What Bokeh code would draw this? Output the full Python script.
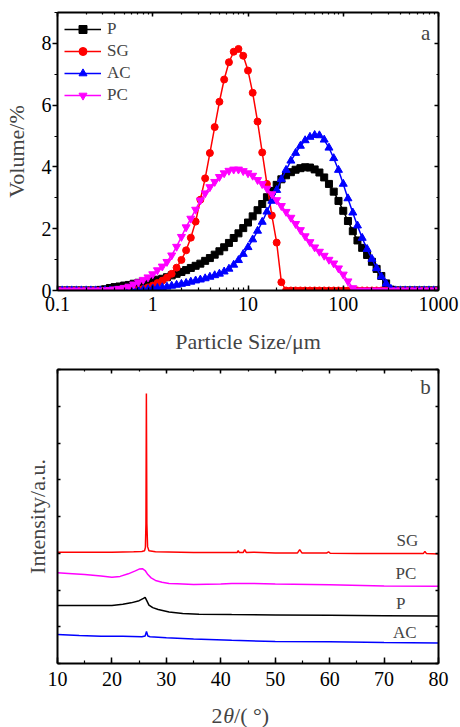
from bokeh.plotting import figure
from bokeh.models import (LogAxis, LinearAxis, Label, Legend, LegendItem, Range1d,
                          SingleIntervalTicker, LogTicker, CustomJSTickFormatter)
from bokeh.layouts import column
from bokeh.embed import file_html
from bokeh.resources import INLINE

FONT = "Liberation Serif"

# ---------------- (a) particle size distribution ----------------
size_um = [0.1, 0.112, 0.126, 0.141, 0.158, 0.178, 0.2, 0.224, 0.251, 0.282,
           0.316, 0.355, 0.398, 0.447, 0.501, 0.562, 0.631, 0.708, 0.794, 0.891,
           1, 1.12, 1.26, 1.41, 1.58, 1.78, 2.0, 2.24, 2.51, 2.82,
           3.16, 3.55, 3.98, 4.47, 5.01, 5.62, 6.31, 7.08, 7.94, 8.91,
           10, 11.2, 12.6, 14.1, 15.8, 17.8, 20.0, 22.4, 25.1, 28.2,
           31.6, 35.5, 39.8, 44.7, 50.1, 56.2, 63.1, 70.8, 79.4, 89.1,
           100, 112, 126, 141, 158, 178, 200, 224, 251, 282,
           316, 355, 398, 447, 501, 562, 631, 708, 794, 891,
           1000]

vol_P = [0, 0, 0, 0, 0, 0, 0, 0, 0, 0.02,
         0.04, 0.08, 0.11, 0.13, 0.16, 0.18, 0.22, 0.25, 0.27, 0.29,
         0.32, 0.35, 0.38, 0.43, 0.49, 0.54, 0.60, 0.66, 0.73, 0.80,
         0.87, 0.96, 1.05, 1.16, 1.27, 1.40, 1.54, 1.70, 1.85, 2.02,
         2.20, 2.40, 2.60, 2.80, 3.02, 3.22, 3.42, 3.60, 3.73, 3.83,
         3.91, 3.96, 3.99, 3.98, 3.92, 3.82, 3.66, 3.45, 3.20, 2.90,
         2.58, 2.25, 1.92, 1.62, 1.38, 1.15, 0.93, 0.70, 0.47, 0.23,
         0.03, 0, 0, 0, 0, 0, 0, 0, 0, 0,
         0]

vol_SG = [0, 0, 0, 0, 0, 0, 0, 0, 0, 0,
          0, 0, 0, 0, 0, 0, 0, 0.02, 0.05, 0.10,
          0.16, 0.24, 0.32, 0.42, 0.54, 0.74, 0.99, 1.30, 1.71, 2.23,
          2.94, 3.63, 4.45, 5.29, 6.11, 6.83, 7.39, 7.73, 7.82, 7.60,
          7.12, 6.40, 5.47, 4.47, 3.45, 2.43, 1.55, 0.27, 0, 0,
          0, 0, 0, 0, 0, 0, 0, 0, 0, 0,
          0, 0, 0, 0, 0, 0, 0, 0, 0, 0,
          0, 0, 0, 0, 0, 0, 0, 0, 0, 0,
          0]

vol_AC = [0, 0, 0, 0, 0, 0, 0, 0, 0, 0,
          0, 0, 0, 0, 0, 0, 0, 0, 0.02, 0.04,
          0.06, 0.08, 0.10, 0.12, 0.15, 0.18, 0.21, 0.24, 0.28, 0.32,
          0.35, 0.39, 0.44, 0.49, 0.54, 0.61, 0.70, 0.83, 0.98, 1.18,
          1.40, 1.65, 1.93, 2.22, 2.55, 2.90, 3.25, 3.60, 3.90, 4.20,
          4.45, 4.68, 4.86, 4.97, 5.03, 5.02, 4.88, 4.62, 4.28, 3.90,
          3.45, 2.98, 2.52, 2.10, 1.70, 1.34, 1.02, 0.72, 0.45, 0.22,
          0.05, 0, 0, 0, 0, 0, 0, 0, 0, 0,
          0]

vol_PC = [0, 0, 0, 0, 0, 0, 0, 0, 0, 0,
          0.01, 0.02, 0.04, 0.06, 0.09, 0.13, 0.20, 0.27, 0.35, 0.43,
          0.53, 0.66, 0.78, 0.93, 1.14, 1.42, 1.74, 2.05, 2.33, 2.62,
          2.92, 3.15, 3.35, 3.52, 3.68, 3.80, 3.88, 3.92, 3.92, 3.87,
          3.80, 3.72, 3.58, 3.45, 3.30, 3.12, 2.93, 2.74, 2.55, 2.36,
          2.16, 1.96, 1.76, 1.57, 1.40, 1.26, 1.13, 1.00, 0.88, 0.72,
          0.52, 0.30, 0.08, 0, 0, 0, 0, 0, 0, 0,
          0, 0, 0, 0, 0, 0, 0, 0, 0, 0,
          0]

psd_series = [("P", vol_P, "black", "square", 7),
              ("SG", vol_SG, "red", "circle", 7),
              ("AC", vol_AC, "blue", "triangle", 8),
              ("PC", vol_PC, "magenta", "inverted_triangle", 8)]

# ---------------- (b) XRD patterns ----------------
tt_SG = [10, 15, 20, 24, 25.5, 26.0, 26.15, 26.25, 26.33, 26.42, 26.55, 26.8, 28,
         35, 42, 43.0, 43.2, 43.4, 44.1, 44.4, 44.7, 46, 50, 54.1, 54.5, 54.9,
         59.5, 59.8, 60.1, 65, 70, 77.2, 77.5, 77.8, 80]
int_SG = [303, 303, 303, 304, 305, 307, 316, 381, 735, 381, 318, 307, 304,
          302, 302, 302, 307, 302, 302, 310, 302, 303, 301, 301, 310, 301,
          301, 304, 300, 299, 299, 299, 305, 299, 298]

tt_PC = [10, 12, 15, 18, 20, 21.5, 23, 24.3, 25, 25.6, 26.1, 26.6, 27.2, 28,
         29.2, 30.5, 32, 35, 40, 42, 45, 50, 60, 70, 80]
int_PC = [247, 245, 242, 238, 235, 237, 244, 252, 257, 258, 253, 242, 233, 226,
          221, 218, 217, 215, 216, 218, 218, 216, 214, 211, 210]

tt_P = [10, 15, 20, 22, 23.5, 25, 25.8, 26.1, 26.4, 26.8, 27.5, 28.5, 30.5, 33,
        36, 42, 50, 60, 70, 80]
int_P = [158, 158, 158, 161, 165, 171, 177, 180, 171, 159, 152, 147, 140, 136,
         134, 133, 132, 131, 130, 129]

tt_AC = [10, 14, 18, 22, 25.5, 26.1, 26.35, 26.6, 27, 30, 35, 42, 50, 60, 70, 80]
int_AC = [79, 76, 74, 74, 73, 75, 87, 75, 73, 70, 67, 63, 60, 59, 57, 56]

xrd_series = [("SG", tt_SG, int_SG, "red"),
              ("PC", tt_PC, int_PC, "magenta"),
              ("P", tt_P, int_P, "black"),
              ("AC", tt_AC, int_AC, "blue")]


def style_axis(ax, tick_in, tick_out, minor_in, minor_out, labels=True, size="20px"):
    ax.axis_line_width = 2
    ax.axis_line_color = "black"
    ax.major_tick_line_width = 1.5
    ax.minor_tick_line_width = 1.2
    ax.major_tick_in = tick_in
    ax.major_tick_out = tick_out
    ax.minor_tick_in = minor_in
    ax.minor_tick_out = minor_out
    ax.major_label_text_font = FONT
    ax.axis_label_text_font = FONT
    ax.axis_label_text_font_style = "normal"
    ax.axis_label_text_font_size = "22px"
    ax.major_label_text_color = "black"
    if labels:
        ax.major_label_text_font_size = size
    else:
        ax.major_label_text_font_size = "0px"
        ax.major_label_standoff = 0


W = 460
BL, BR = 55, 22

p1 = figure(width=W, height=365, x_axis_type="log",
            x_range=Range1d(0.1, 1000), y_range=Range1d(0, 9),
            output_backend="svg", toolbar_location=None,
            min_border_left=BL, min_border_right=BR,
            min_border_top=12, min_border_bottom=75)
p1.xgrid.visible = False
p1.ygrid.visible = False
p1.outline_line_color = None
p1.background_fill_color = "white"
p1.border_fill_color = "white"

logticker = LogTicker(num_minor_ticks=10)
yticker1 = SingleIntervalTicker(interval=2, num_minor_ticks=2)

xa = p1.xaxis[0]
xa.ticker = logticker
xa.formatter = CustomJSTickFormatter(code="return String(parseFloat(tick.toPrecision(6)));")
style_axis(xa, 5, 0, 3, 0)
xa.major_label_standoff = 6
xa.axis_label = "Particle Size/\u03bcm"
xa.axis_label_standoff = 15

ya = p1.yaxis[0]
ya.ticker = yticker1
style_axis(ya, 0, 5, 0, 3)
ya.major_label_standoff = 1
ya.axis_label = "Volume/%"
ya.axis_label_standoff = 10

top1 = LogAxis(ticker=logticker, formatter=CustomJSTickFormatter(code="return '';"))
style_axis(top1, 4, 0, 2, 0, labels=False)
p1.add_layout(top1, "above")
right1 = LinearAxis(ticker=yticker1, formatter=CustomJSTickFormatter(code="return '';"))
style_axis(right1, 4, 0, 2, 0, labels=False)
p1.add_layout(right1, "right")

items = []
for name, vals, col, mk, sz in psd_series:
    rl = p1.line(size_um, vals, line_color=col, line_width=1.5)
    rs = p1.scatter(size_um, vals, marker=mk, size=sz, fill_color=col, line_color=col)
    items.append(LegendItem(label=name, renderers=[rl, rs]))

legend = Legend(items=items, location="top_left", label_text_font=FONT,
                label_text_font_size="17px", glyph_width=37, glyph_height=20,
                label_height=20, spacing=2, padding=3, margin=7,
                label_standoff=6, border_line_color=None,
                background_fill_alpha=0)
p1.add_layout(legend)

p1.add_layout(Label(x=731, y=8.35, text="a", text_font=FONT, text_font_size="21px",
                    text_align="center", text_baseline="middle"))

# ---------------- (b) XRD figure ----------------
p2 = figure(width=W, height=332, x_range=Range1d(10, 80), y_range=Range1d(0, 800),
            output_backend="svg", toolbar_location=None,
            min_border_left=BL, min_border_right=BR,
            min_border_top=4, min_border_bottom=34)
p2.xgrid.visible = False
p2.ygrid.visible = False
p2.outline_line_color = None
p2.background_fill_color = "white"
p2.border_fill_color = "white"

xticker2 = SingleIntervalTicker(interval=10, num_minor_ticks=2)
yticker2 = SingleIntervalTicker(interval=100, num_minor_ticks=0)

xb = p2.xaxis[0]
xb.ticker = xticker2
style_axis(xb, 6, 0, 3, 0)
xb.major_label_standoff = 8

yb = p2.yaxis[0]
yb.ticker = yticker2
yb.formatter = CustomJSTickFormatter(code="return '';")
style_axis(yb, 3, 0, 0, 0, labels=False)
yb.axis_label = "Intensity/a.u."
yb.axis_label_standoff = 8

top2 = LinearAxis(ticker=xticker2, formatter=CustomJSTickFormatter(code="return '';"))
style_axis(top2, 4, 0, 2, 0, labels=False)
p2.add_layout(top2, "above")
right2 = LinearAxis(ticker=yticker2, formatter=CustomJSTickFormatter(code="return '';"))
style_axis(right2, 3, 0, 0, 0, labels=False)
p2.add_layout(right2, "right")

for name, tt, inten, col in xrd_series:
    p2.line(tt, inten, line_color=col, line_width=1.5)

curve_labels = [("SG", 74.3, 335), ("PC", 74.0, 244), ("P", 73.05, 162), ("AC", 73.8, 84)]
for txt, lx, ly in curve_labels:
    p2.add_layout(Label(x=lx, y=ly, text=txt, text_font=FONT, text_font_size="17px",
                        text_align="center", text_baseline="middle"))

p2.add_layout(Label(x=77.6, y=752, text="b", text_font=FONT, text_font_size="21px",
                    text_align="center", text_baseline="middle"))

# ---------------- x-axis title strip "2θ/( °)" (italic theta) ----------------
p3 = figure(width=W, height=30, x_range=Range1d(10, 80), y_range=Range1d(0, 1),
            output_backend="svg", toolbar_location=None,
            x_axis_location=None, y_axis_location=None,
            min_border_left=BL, min_border_right=BR,
            min_border_top=0, min_border_bottom=0)
p3.grid.visible = False
p3.outline_line_color = None
p3.background_fill_color = "white"
p3.border_fill_color = "white"

p3.add_layout(Label(x=38.3, y=0.4, text="2", text_font=FONT, text_font_size="22px",
                    text_align="left", text_baseline="middle"))
p3.add_layout(Label(x=40.43, y=0.4, text="\u03b8", text_font=FONT, text_font_size="22px",
                    text_font_style="italic", text_align="left", text_baseline="middle"))
p3.add_layout(Label(x=42.44, y=0.4, text="/( \u00b0)", text_font=FONT, text_font_size="22px",
                    text_align="left", text_baseline="middle"))

layout = column(p1, p2, p3)
open("out.html", "w").write(file_html(layout, INLINE))
